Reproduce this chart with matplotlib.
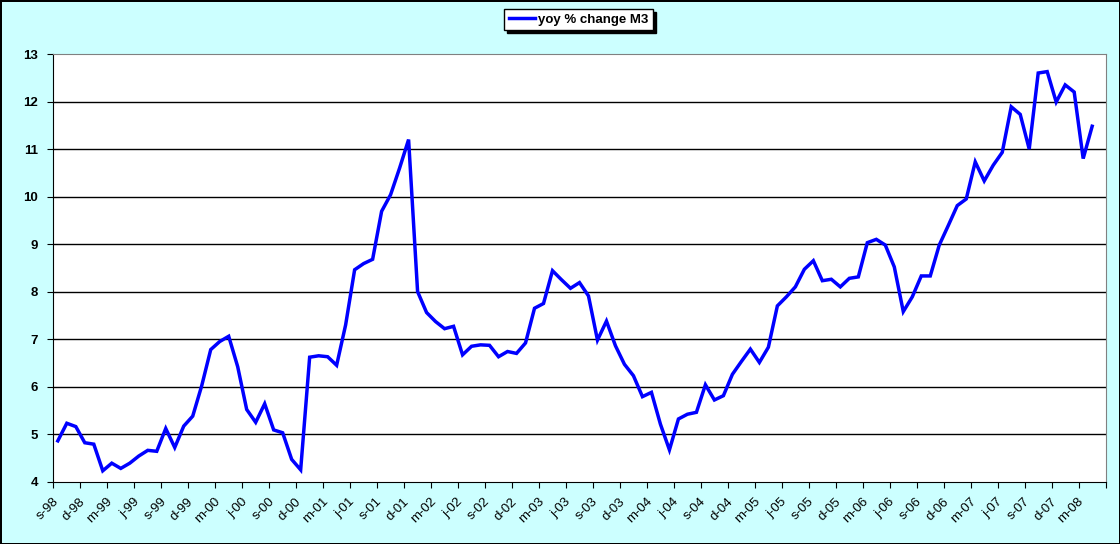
import numpy as np
import matplotlib
matplotlib.use('Agg')
import matplotlib.pyplot as plt
from matplotlib.transforms import ScaledTranslation

# monthly yoy % change of M3, Sep 1998 .. Apr 2008
m3_yoy = [
    4.86, 5.23, 5.16, 4.82, 4.79, 4.23, 4.39, 4.28, 4.39, 4.54, 4.66, 4.64,   # s-98 .. a-99
    5.12, 4.72, 5.17, 5.38, 6.02, 6.78, 6.95, 7.06, 6.42, 5.52, 5.25, 5.64,   # s-99 .. a-00
    5.09, 5.03, 4.47, 4.25, 6.62, 6.65, 6.63, 6.45, 7.30, 8.46, 8.59, 8.68,   # s-00 .. a-01
    9.69, 10.04, 10.60, 11.20, 8.00, 7.56, 7.37, 7.22, 7.27, 6.67, 6.85, 6.88, # s-01 .. a-02
    6.87, 6.63, 6.74, 6.70, 6.92, 7.65, 7.75, 8.44, 8.25, 8.07, 8.19, 7.91,   # s-02 .. a-03
    6.98, 7.38, 6.86, 6.47, 6.23, 5.79, 5.88, 5.21, 4.67, 5.32, 5.42, 5.46,   # s-03 .. a-04
    6.04, 5.72, 5.81, 6.26, 6.53, 6.79, 6.51, 6.83, 7.70, 7.89, 8.10, 8.47,   # s-04 .. a-05
    8.65, 8.23, 8.26, 8.10, 8.28, 8.31, 9.03, 9.10, 8.98, 8.52, 7.58, 7.89,   # s-05 .. a-06
    8.33, 8.33, 8.98, 9.39, 9.81, 9.95, 10.73, 10.33, 10.66, 10.93, 11.89, 11.73, # s-06 .. a-07
    11.00, 12.60, 12.63, 11.99, 12.35, 12.20, 10.80, 11.48,                  # s-07 .. a-08
]
n_cat = 117   # category axis runs to May 2008
tick_labels = []
for yr in range(98, 109):
    for m in ['m', 'j', 's', 'd']:
        tick_labels.append(m + '-%02d' % (yr % 100))
tick_labels = tick_labels[2:2 + 39]   # s-98 .. m-08
yticks = [4, 5, 6, 7, 8, 9, 10, 11, 12, 13]

plt.rcParams['font.family'] = ['Liberation Sans', 'DejaVu Sans']

fig = plt.figure(figsize=(11.2, 5.44), dpi=100)
fig.patch.set_facecolor('#CCFFFF')
fig.patch.set_edgecolor('black')
fig.patch.set_linewidth(2)

ax = fig.add_axes([0.0476, 0.1145, 0.9396, 0.7862])
ax.set_facecolor('white')

x = np.arange(len(m3_yoy))
ax.plot(x, m3_yoy, color='#0000FF', lw=2.5, solid_joinstyle='miter',
        label='yoy % change M3', zorder=3)

ax.set_yticks(yticks)
ax.set_yticklabels([str(v) for v in yticks], fontsize=9.5, fontweight='bold')
for v in yticks[1:-1]:
    ax.axhline(v, color='black', lw=1, zorder=1)

# tick marks between categories, labels on every third category
ax.set_xticks(np.arange(-0.5, n_cat, 3))
ax.set_xticklabels([])
ax.tick_params(axis='x', which='major', direction='out', length=4, color='black')
ax.tick_params(axis='y', direction='out', length=4, color='black', pad=7)
ax.set_xlim(-0.5, n_cat - 0.5)
ax.set_ylim(4, 13)

lab_tr = ax.get_xaxis_transform() + ScaledTranslation(-4 / 72, -10 / 72, fig.dpi_scale_trans)
for pos, lab in zip(range(0, n_cat, 3), tick_labels):
    ax.text(pos, 0, lab, transform=lab_tr, rotation=45, ha='right', va='top',
            rotation_mode='anchor', fontsize=9.5, clip_on=False)

ax.spines['left'].set_color('black')
ax.spines['bottom'].set_color('black')
ax.spines['top'].set_color('#808080')
ax.spines['right'].set_color('#808080')

leg = ax.legend(loc='center', bbox_to_anchor=(0.5165, 0.9638),
                bbox_transform=fig.transFigure, frameon=True, fancybox=False,
                shadow={'color': 'black', 'alpha': 1.0}, edgecolor='black',
                framealpha=1, handlelength=2.0, handletextpad=0.2,
                borderpad=0.35, prop={'weight': 'bold', 'size': 9.5})
leg.get_frame().set_linewidth(1)

fig.savefig('out.png', dpi=100, facecolor=fig.get_facecolor(),
            edgecolor=fig.get_edgecolor())
